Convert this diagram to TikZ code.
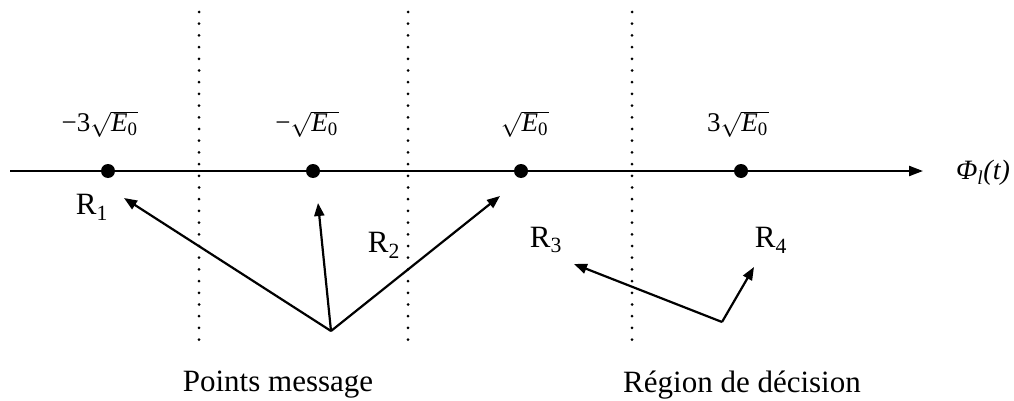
\documentclass[tikz,border=0pt]{standalone}
\usepackage{fontspec}
\setmainfont{Liberation Serif}
\usetikzlibrary{arrows.meta}
\newcommand{\rtE}{$\sqrt{\hbox{\textit{E}\textsubscript{0}\kern1pt}}$}
\tikzset{
  axisline/.style={line width=2.2pt,-{Triangle[length=14pt,width=10pt]}},
  vec/.style={line width=2.2pt,-{Triangle[length=13pt,width=10pt]}},
  sep/.style={line width=3pt,line cap=round,dash pattern=on 0pt off 11.7pt,black},
  pt/.style={circle,fill=black,inner sep=0pt,minimum size=14pt},
  lab/.style={inner sep=0pt,font=\fontsize{31}{36}\selectfont},
  val/.style={inner sep=0pt,font=\fontsize{27}{30}\selectfont},
}
\begin{document}
\begin{tikzpicture}[x=1pt,y=-1pt]
\useasboundingbox (0,0) rectangle (1014,401);
% separators
\draw[sep] (199,12) -- (199,340);
\draw[sep] (408,12) -- (408,340);
\draw[sep] (632,12) -- (632,340);
% axis
\coordinate (axs) at (10,171);
\coordinate (axe) at (923,171);
\draw[axisline] (axs) -- (axe);
\node[pt] (p1) at (108,171) {};
\node[pt] (p2) at (313,171) {};
\node[pt] (p3) at (521,171) {};
\node[pt] (p4) at (741,171) {};
\node[val] (v1) at (100,124) {−3\rtE};
\node[val] (v2) at (307,124) {−\rtE};
\node[val] (v3) at (525,124) {\rtE};
\node[val] (v4) at (738,124) {3\rtE};
\node[inner sep=0pt,font=\fontsize{28}{32}\selectfont] (phi) at (983,173) {\textit{Φ\textsubscript{l}(t)}};
% region labels
\node[lab] (r1) at (92,207) {R\textsubscript{1}};
\node[lab] (r2) at (384,245) {R\textsubscript{2}};
\node[lab] (r3) at (546,240) {R\textsubscript{3}};
\node[lab] (r4) at (771,240) {R\textsubscript{4}};
% message points arrows
\coordinate (o1) at (331,331);
\coordinate (t1) at (124,198);
\coordinate (t2) at (318,203);
\coordinate (t3) at (500,196);
\draw[vec] (o1) -- (t1);
\draw[vec] (o1) -- (t2);
\draw[vec] (o1) -- (t3);
% decision region arrows
\coordinate (o2) at (722,322);
\coordinate (t4) at (574,264);
\coordinate (t5) at (754,267);
\draw[vec] (o2) -- (t4);
\draw[vec] (o2) -- (t5);
\node[lab] (pm) at (278,385) {Points message};
\node[lab] (rd) at (742,385) {Région de décision};
\end{tikzpicture}
\end{document}
